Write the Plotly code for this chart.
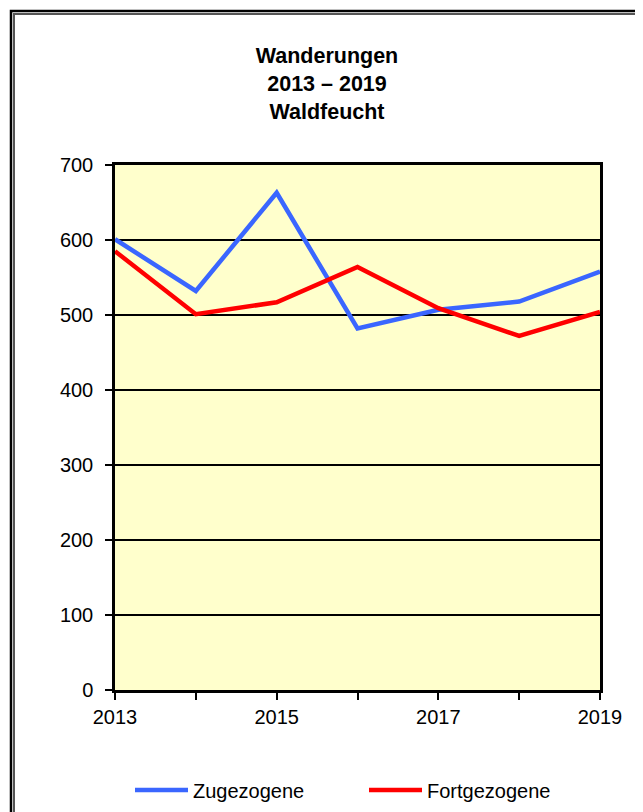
import plotly.graph_objects as go

years = [2013, 2014, 2015, 2016, 2017, 2018, 2019]
zugezogene = [601, 532, 663, 482, 507, 518, 558]
fortgezogene = [585, 501, 517, 564, 509, 472, 504]
x_tick_labels = ["2013", "", "2015", "", "2017", "", "2019"]
y_ticks = [0, 100, 200, 300, 400, 500, 600, 700]

OFF = 8  # page body margin
W, H = 643 - OFF, 812 - OFF
L, T = 115 - OFF, 165 - OFF
R = W - (600 - OFF)
B = H - (690 - OFF)
pw, ph = W - L - R, H - T - B

def px2x(p):
    return (p - OFF - L) / pw

def py2y(p):
    return (H - B - (p - OFF)) / ph

fig = go.Figure()
fig.add_trace(go.Scatter(x=years, y=zugezogene, mode="lines", name="Zugezogene",
                         line=dict(color="#3A66FF", width=4.5)))
fig.add_trace(go.Scatter(x=years, y=fortgezogene, mode="lines", name="Fortgezogene",
                         line=dict(color="#FF0000", width=4.5)))

font_family = "Liberation Sans, Arial, sans-serif"

fig.update_layout(
    width=W, height=H,
    margin=dict(l=L, r=R, t=T, b=B),
    paper_bgcolor="white",
    plot_bgcolor="#FFFFCC",
    font=dict(family=font_family, size=20, color="black"),
    title=dict(text="<b>Wanderungen<br>2013 – 2019<br>Waldfeucht</b>",
               x=(327 - OFF) / W, xanchor="center", xref="container",
               y=1 - (63 - OFF) / H, yanchor="top", yref="container",
               font=dict(size=21.5, family=font_family, color="black")),
    showlegend=True,
    legend=dict(orientation="h", x=(130 - OFF) / W, xanchor="left", xref="container",
                y=1 - (790 - OFF) / H, yanchor="middle", yref="container",
                font=dict(size=20), itemwidth=53, entrywidth=166, tracegroupgap=0,
                bgcolor="rgba(0,0,0,0)"),
    xaxis=dict(range=[2013, 2019], tickvals=years, ticktext=x_tick_labels,
               showgrid=False, zeroline=False, showline=True, linecolor="black",
               linewidth=2.5, mirror=True, ticks="outside", ticklen=7, tickwidth=2,
               tickcolor="black", tickfont=dict(size=20)),
    yaxis=dict(range=[0, 700], tickvals=y_ticks, showgrid=True, gridcolor="black",
               gridwidth=2, zeroline=False, showline=True, linecolor="black",
               linewidth=2.5, mirror=True, ticks="outside", ticklen=7, tickwidth=2,
               tickcolor="black", tickfont=dict(size=20), ticklabelstandoff=8),
)

# outer frame with slight shadow
fig.add_shape(type="rect", xref="paper", yref="paper",
              x0=px2x(14), x1=px2x(640), y0=py2y(830), y1=py2y(14),
              line=dict(color="#555555", width=2), fillcolor="rgba(0,0,0,0)", layer="below")
fig.add_shape(type="rect", xref="paper", yref="paper",
              x0=px2x(11), x1=px2x(637), y0=py2y(830), y1=py2y(11),
              line=dict(color="black", width=2.5), fillcolor="rgba(0,0,0,0)", layer="below")

fig.write_html("out.html")
